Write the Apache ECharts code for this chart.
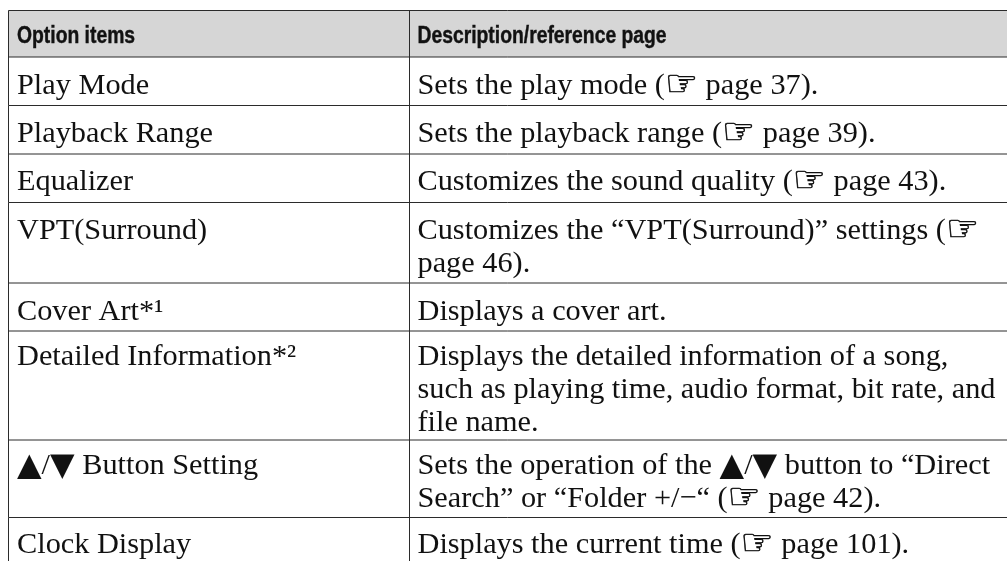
<!DOCTYPE html>
<html>
<head>
<meta charset="utf-8">
<title>Option items</title>
<script src="https://cdn.jsdelivr.net/npm/echarts@6/dist/echarts.min.js"></script>
<style>
html, body { margin: 0; padding: 0; background: #fff; }
#chart { width: 1007px; height: 561px; }
</style>
</head>
<body>
<div id="chart"></div>
<script>
// 表格内容
const optionItems = [
  'Option items',
  'Play Mode',
  'Playback Range',
  'Equalizer',
  'VPT(Surround)',
  'Cover Art*¹',
  'Detailed Information*²',
  '▲/▼ Button Setting',
  'Clock Display'
];
const descriptions = [
  'Description/reference page',
  'Sets the play mode (☞ page 37).',
  'Sets the playback range (☞ page 39).',
  'Customizes the sound quality (☞ page 43).',
  'Customizes the “VPT(Surround)” settings (☞\npage 46).',
  'Displays a cover art.',
  'Displays the detailed information of a song,\nsuch as playing time, audio format, bit rate, and\nfile name.',
  'Sets the operation of the ▲/▼ button to “Direct\nSearch” or “Folder +/−“ (☞ page 42).',
  'Displays the current time (☞ page 101).'
];
// 行分隔线、列分隔线、每行首行基线（轴坐标）
const rowEdges = [10.5, 57, 105.5, 154, 202.5, 283, 331, 440, 517.5, 561];
const columnEdges = [8.5, 409.5, 1007];
const rowBaselines = [42, 94, 142, 190, 239, 320, 365, 474, 553];

const serifFont = '"Liberation Serif", "DejaVu Serif"';
const symbolFont = '"DejaVu Sans"';
const headerFont = '"Liberation Sans"';
const lineColor = '#2b2b2b';
const textColor = '#111';

const richStyles = {
  t: { fontFamily: serifFont, fontSize: 30.3, lineHeight: 33, fill: textColor },
  h: { fontFamily: symbolFont, fontSize: 37, lineHeight: 33, fill: textColor, stroke: textColor, lineWidth: 0.6 },
  a: { fontFamily: symbolFont, fontSize: 32, lineHeight: 33, fill: textColor }
};

// 手形和三角符号用单独字号
const toRich = (text) => text
  .split(/([☞▲▼])/)
  .filter((part) => part !== '')
  .map((part) => {
    if (part === '☞') return `{h|${part}}`;
    if (part === '▲' || part === '▼') return `{a|${part}}`;
    return `{t|${part}}`;
  })
  .join('');

const renderRow = (params, api) => {
  const i = params.dataIndex;
  const topLeft = api.coord([columnEdges[0], rowEdges[i]]);
  const divider = api.coord([columnEdges[1], rowEdges[i]]);
  const bottomRight = api.coord([columnEdges[2], rowEdges[i + 1]]);
  const baseline = api.coord([columnEdges[0], rowBaselines[i]])[1];
  const isHeader = i === 0;
  const children = [];

  if (isHeader) {
    children.push({
      type: 'rect',
      shape: { x: topLeft[0], y: topLeft[1], width: bottomRight[0] - topLeft[0], height: bottomRight[1] - topLeft[1] },
      style: { fill: '#d6d6d6' }
    });
  }

  // 横线和竖线
  const segments = [
    [topLeft[0], topLeft[1], bottomRight[0], topLeft[1]],
    [topLeft[0], topLeft[1], topLeft[0], bottomRight[1]],
    [divider[0], topLeft[1], divider[0], bottomRight[1]]
  ];
  segments.forEach((s) => {
    children.push({
      type: 'line',
      shape: { x1: s[0], y1: s[1], x2: s[2], y2: s[3] },
      style: { stroke: lineColor, lineWidth: 1 }
    });
  });

  const cells = [
    { text: optionItems[i], x: topLeft[0] + 8.5 },
    { text: descriptions[i], x: divider[0] + 8 }
  ];
  cells.forEach((cell) => {
    if (isHeader) {
      // 表头没有窄体字，横向压缩
      children.push({
        type: 'text',
        x: cell.x,
        y: baseline + 8,
        scaleX: 0.84,
        style: {
          text: cell.text,
          x: 0,
          y: 0,
          font: `bold 23px ${headerFont}`,
          fill: textColor,
          stroke: textColor,
          lineWidth: 0.4,
          verticalAlign: 'bottom',
          lineHeight: 26
        }
      });
    } else {
      children.push({
        type: 'text',
        style: {
          text: toRich(cell.text),
          x: cell.x,
          y: baseline - 24,
          rich: richStyles,
          fill: textColor,
          verticalAlign: 'top'
        }
      });
    }
  });

  return { type: 'group', children };
};

const chartInstance = echarts.init(document.getElementById('chart'));
chartInstance.setOption({
  animation: false,
  grid: { left: 0, right: 0, top: 0, bottom: 0 },
  xAxis: { type: 'value', min: 0, max: 1007, show: false },
  yAxis: { type: 'value', min: 0, max: 561, inverse: true, show: false },
  series: [
    {
      type: 'custom',
      silent: true,
      clip: false,
      renderItem: renderRow,
      data: optionItems.map((item, i) => [i])
    }
  ]
});
</script>
</body>
</html>
